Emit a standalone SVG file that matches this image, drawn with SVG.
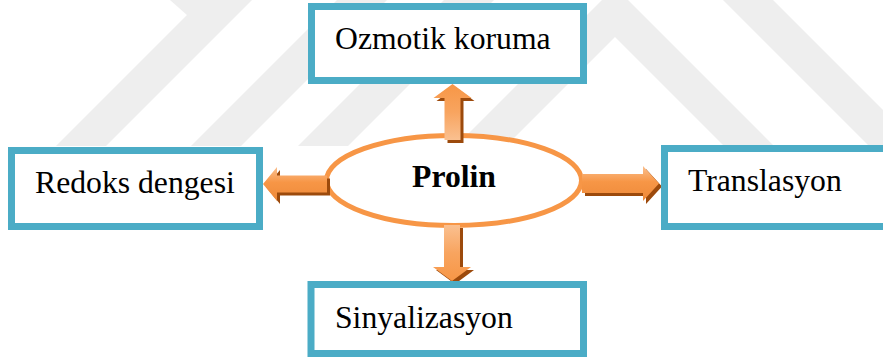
<svg xmlns="http://www.w3.org/2000/svg" width="883" height="358" viewBox="0 0 883 358">
  <style>
    .box { fill: #FFFFFF; stroke: #4BACC6; stroke-width: 7; }
    .lbl { font-family: "Liberation Serif", "Times New Roman", serif; font-size: 31.7px; fill: #000000; }
    .bold { font-weight: bold; }
    .wm { fill: #EEEEEE; }
    .shadow { fill: #9C4A0C; }
  </style>
  <defs>
    <clipPath id="wmClip"><rect x="0" y="0" width="883" height="146"/></clipPath>
    <linearGradient id="gH" x1="0" y1="0" x2="0" y2="1">
      <stop offset="0" stop-color="#FAC090"/>
      <stop offset="0.45" stop-color="#F79646"/>
      <stop offset="1" stop-color="#EE8A3A"/>
    </linearGradient>
    <linearGradient id="gUp" x1="0" y1="0" x2="0" y2="1">
      <stop offset="0" stop-color="#F79646"/>
      <stop offset="0.5" stop-color="#F8A45F"/>
      <stop offset="1" stop-color="#FAC090"/>
    </linearGradient>
    <linearGradient id="gDown" x1="0" y1="0" x2="0" y2="1">
      <stop offset="0" stop-color="#FAC090"/>
      <stop offset="0.5" stop-color="#F8A45F"/>
      <stop offset="1" stop-color="#F79646"/>
    </linearGradient>
  </defs>

  <rect x="0" y="0" width="883" height="358" fill="#FFFFFF"/>

  <g id="watermark" clip-path="url(#wmClip)">
    <polygon class="wm" points="170,0 187,15 55,147 105,147 252,0"/>
    <polygon class="wm" points="190,147 240,147 387,0 337,0"/>
    <polygon class="wm" points="297,147 347,147 494,0 444,0"/>
    <polygon class="wm" points="615,-13 775,147 725,147 615,37 505,147 455,147"/>
    <polygon class="wm" points="723,0 773,0 883,110 883,147 870,147"/>
  </g>

  <g id="node-prolin">
    <ellipse cx="454" cy="180.5" rx="127.5" ry="45" fill="#FFFFFF" stroke="#F79646" stroke-width="5"/>
    <text class="lbl bold" x="454" y="187" text-anchor="middle">Prolin</text>
  </g>

  <g id="connectors">
    <g id="arrow-up">
      <path class="shadow" transform="translate(3,3)" d="M452.5,84 L471.5,98 L460.5,98 L460.5,140 L444.5,140 L444.5,98 L433.5,98 Z"/>
      <path fill="url(#gUp)" d="M452.5,84 L471.5,98 L460.5,98 L460.5,140 L444.5,140 L444.5,98 L433.5,98 Z"/>
    </g>
    <g id="arrow-down">
      <path class="shadow" transform="translate(3,3)" d="M444,225 L460,225 L460,267 L471,267 L452,281 L433,267 L444,267 Z"/>
      <path fill="url(#gDown)" d="M444,225 L460,225 L460,267 L471,267 L452,281 L433,267 L444,267 Z"/>
    </g>
    <g id="arrow-left">
      <path class="shadow" transform="translate(3,3)" d="M263,184 L277,167 L277,175.5 L327,175.5 L327,192.5 L277,192.5 L277,201 Z"/>
      <path fill="url(#gH)" d="M263,184 L277,167 L277,175.5 L327,175.5 L327,192.5 L277,192.5 L277,201 Z"/>
    </g>
    <g id="arrow-right">
      <path class="shadow" transform="translate(3,3)" d="M582,174 L643,174 L643,166 L659,183.5 L643,201 L643,193 L582,193 Z"/>
      <path fill="url(#gH)" d="M582,174 L643,174 L643,166 L659,183.5 L643,201 L643,193 L582,193 Z"/>
    </g>
  </g>

  <g id="node-ozmotik">
    <rect class="box" x="311.5" y="6.5" width="272" height="74"/>
    <text class="lbl" x="335" y="49">Ozmotik koruma</text>
  </g>

  <g id="node-redoks">
    <rect class="box" x="11.5" y="150.5" width="248" height="76"/>
    <text class="lbl" x="35" y="193">Redoks dengesi</text>
  </g>

  <g id="node-translasyon">
    <rect class="box" x="664.5" y="148.5" width="240" height="78"/>
    <text class="lbl" x="688" y="191">Translasyon</text>
  </g>

  <g id="node-sinyalizasyon">
    <rect class="box" x="311" y="284.5" width="272.5" height="69"/>
    <text class="lbl" x="335" y="328">Sinyalizasyon</text>
  </g>
</svg>
